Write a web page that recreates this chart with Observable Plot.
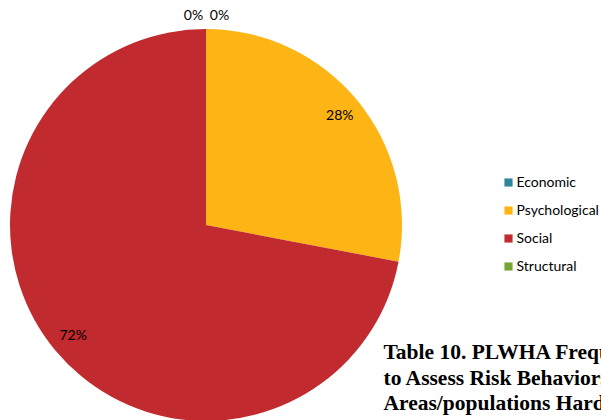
<!DOCTYPE html>
<html><head><meta charset="utf-8">
<script src="https://cdn.jsdelivr.net/npm/d3@7"></script>
<script src="https://cdn.jsdelivr.net/npm/@observablehq/plot@0.6"></script>
<style>html,body{margin:0;padding:0;background:#fff;overflow:hidden;width:601px;height:420px}</style>
</head><body><div id="chart"></div>
<script>
const categories = ["Economic", "Psychological", "Social", "Structural"];
const values = [0, 28, 72, 0];
const labels = ["0%", "28%", "72%", "0%"];
const colors = ["#31849B", "#FDB515", "#C12A2E", "#77A535"];
const tableLines = ["Table 10. PLWHA Frequency", "to Assess Risk Behaviors", "Areas/populations Hard"];

const W = 601, H = 420;
const cx = 206, cy = 225, R = 196, rLabel = 173;
const data = categories.map((c, i) => ({cat: c, value: values[i], label: labels[i], color: colors[i], i}));
const arcs = d3.pie().sort(null).value(d => d.value).startAngle(0).endAngle(2 * Math.PI)(data);

const labelPts = arcs.map((a, i) => {
  const d = a.data;
  if (d.value === 0) {
    const dx = i === 0 ? 13 : -13;
    return {label: d.label, x: cx + dx, y: cy - 210};
  }
  const m = (a.startAngle + a.endAngle) / 2;
  return {label: d.label, x: cx + rLabel * Math.sin(m), y: cy - rLabel * Math.cos(m)};
});

const legend = data.map((d, i) => ({...d, ly: 182 + i * 28}));
const tbl = tableLines.map((t, i) => ({t, ty: 352 + i * 25.5}));

function pieMark(index, scales) {
  const g = d3.create("svg:g");
  const ox = scales.x(cx), oy = scales.y(cy);
  const r = scales.x(cx + R) - ox;
  const arcGen = d3.arc().innerRadius(0).outerRadius(r);
  g.selectAll("path").data(arcs.filter(a => a.data.value > 0)).join("path")
    .attr("transform", `translate(${ox},${oy})`)
    .attr("d", arcGen)
    .attr("fill", a => a.data.color);
  return g.node();
}

const chart = Plot.plot({
  width: W, height: H,
  margin: 0,
  x: {domain: [0, W], range: [0, W], axis: null},
  y: {domain: [0, H], range: [0, H], axis: null},
  style: {fontFamily: "Lato, 'Open Sans', sans-serif", background: "#fff"},
  marks: [
    pieMark,
    Plot.text(labelPts, {x: "x", y: "y", text: "label", fontSize: 14, fill: "#000"}),
    Plot.dot(legend, {x: 508, y: "ly", symbol: "square", r: 4.6, fill: d => d.color, stroke: "none"}),
    Plot.text(legend, {x: 516, y: "ly", text: "cat", textAnchor: "start", fontSize: 14, fill: "#000"}),
    Plot.text(tbl, {x: 383, y: "ty", text: "t", textAnchor: "start", fontSize: 21.5, fontWeight: "bold", fontFamily: "'Liberation Serif', 'DejaVu Serif', serif", fill: "#000"})
  ]
});
document.getElementById("chart").appendChild(chart);
</script></body></html>
